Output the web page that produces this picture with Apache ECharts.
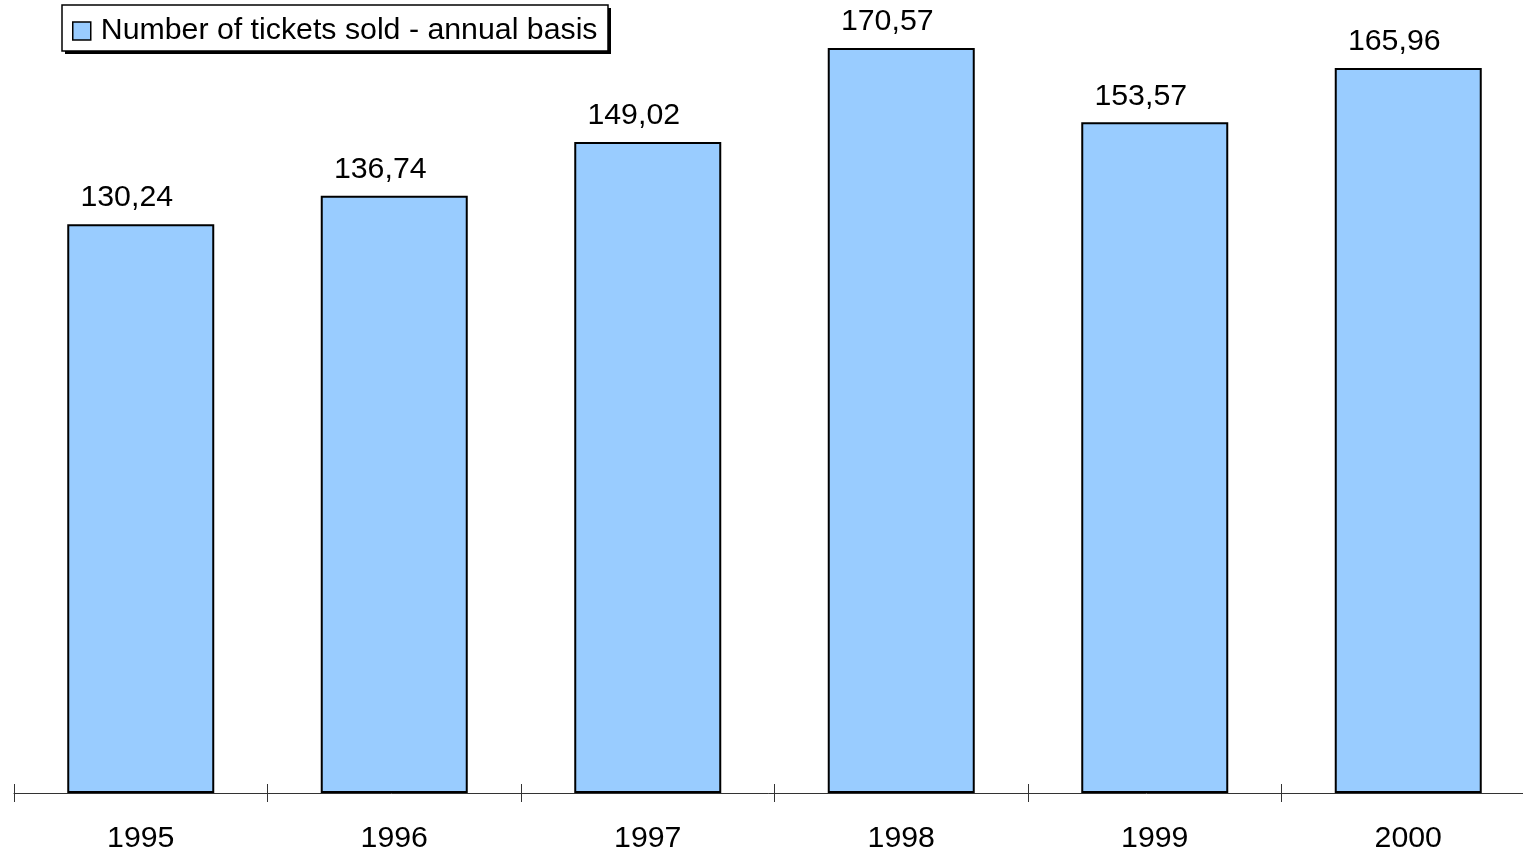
<!DOCTYPE html>
<html>
<head>
<meta charset="utf-8">
<script src="https://cdn.jsdelivr.net/npm/echarts@6/dist/echarts.min.js"></script>
<style>
  html, body { margin: 0; padding: 0; background: #fff; }
  #chart { width: 1523px; height: 854px; }
</style>
</head>
<body>
<div id="chart"></div>
<script>
// Annual ticket sales, 1995-2000
const years = ['1995', '1996', '1997', '1998', '1999', '2000'];
const ticketsSold = [130.24, 136.74, 149.02, 170.57, 153.57, 165.96];
const seriesName = 'Number of tickets sold - annual basis';

const FONT = '"Liberation Sans", Arial, sans-serif';
const fmt = v => v.toFixed(2).replace('.', ',');

const chart = echarts.init(document.getElementById('chart'));
chart.setOption({
  animation: false,
  backgroundColor: '#fff',
  textStyle: { fontFamily: FONT },
  // legend frame with a solid drop shadow
  graphic: [
    { type: 'rect', z: 0, silent: true, shape: { x: 65, y: 8, width: 546, height: 46 }, style: { fill: '#000' } },
    { type: 'rect', z: 1, silent: true, shape: { x: 62, y: 5, width: 546, height: 46 }, style: { fill: '#fff', stroke: '#000', lineWidth: 1.5 } }
  ],
  legend: {
    left: 62,
    top: 5,
    z: 10,
    padding: [11, 10, 6, 10],
    icon: 'rect',
    itemWidth: 18,
    itemHeight: 18,
    itemStyle: { borderWidth: 1.5, borderColor: '#000' },
    textStyle: { fontSize: 30.3, color: '#000', fontFamily: FONT, padding: [0, 0, 0, 5] },
    data: [seriesName]
  },
  grid: { left: 14, right: -12, top: 6.8, bottom: 61, outerBoundsMode: 'none', containLabel: false },
  xAxis: [{
    type: 'category',
    data: years,
    position: 'bottom',
    axisLine: { lineStyle: { color: '#333', width: 1 } },
    axisTick: { show: true, length: 9, lineStyle: { color: '#333', width: 1 } },
    axisLabel: { fontSize: 30.3, color: '#000', margin: 31, fontFamily: FONT }
  }, {
    // inward half of the crossing tick marks
    type: 'category',
    data: years,
    position: 'bottom',
    axisLine: { show: false },
    axisTick: { show: true, inside: true, length: 9, lineStyle: { color: '#333', width: 1 } },
    axisLabel: { show: false }
  }],
  yAxis: { type: 'value', min: 0, max: 180, show: false },
  series: [{
    name: seriesName,
    type: 'bar',
    data: ticketsSold,
    barWidth: 147,
    itemStyle: { color: '#99CCFF', borderColor: '#000', borderWidth: 2 },
    label: {
      show: true,
      position: 'top',
      distance: 11,
      offset: [-14, 0],
      fontSize: 30.3,
      color: '#000',
      fontFamily: FONT,
      formatter: p => fmt(p.value)
    }
  }]
});
</script>
</body>
</html>
